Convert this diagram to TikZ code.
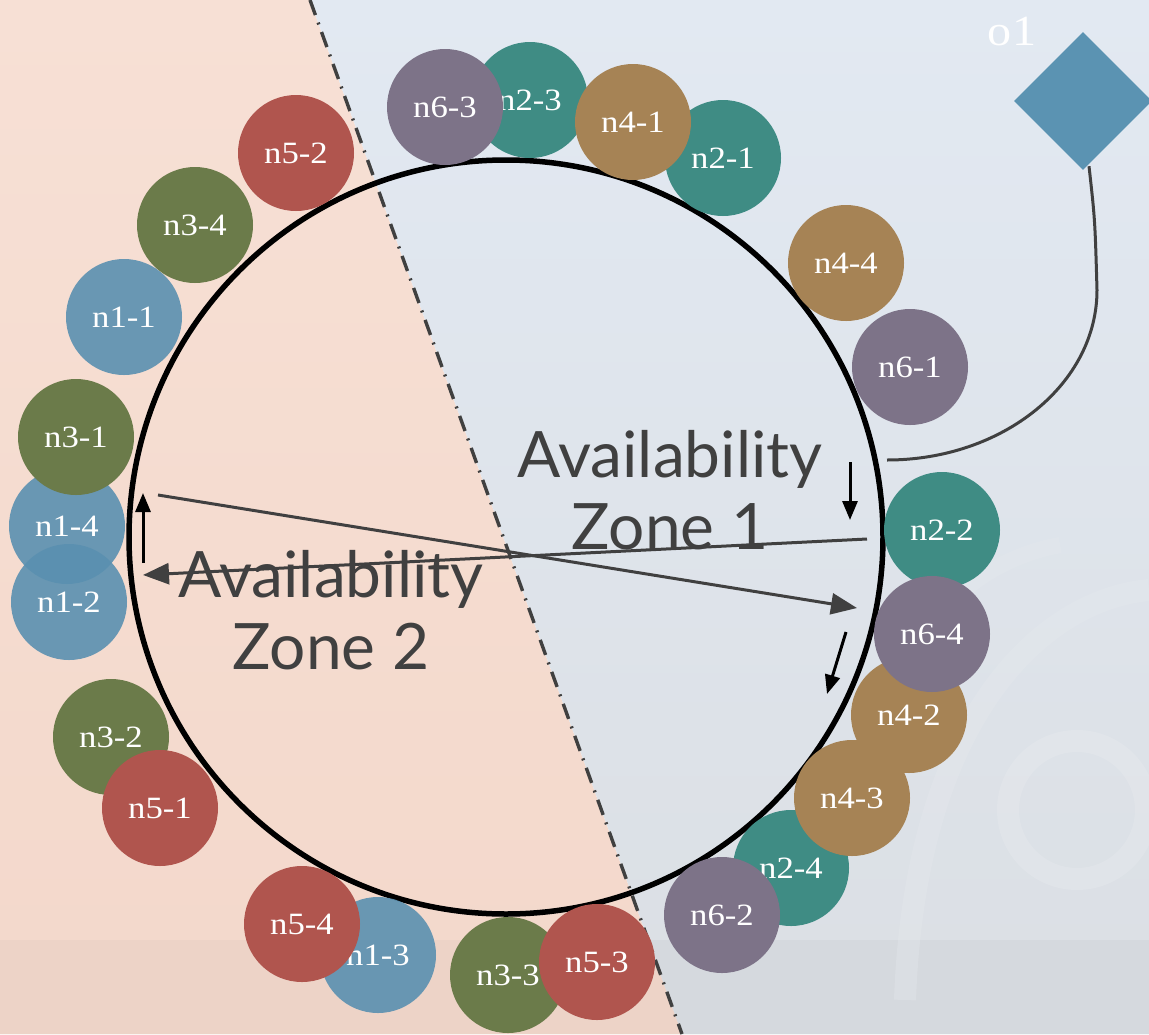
\documentclass[tikz,border=0pt]{standalone}
\usepackage{fontspec}
\setmainfont[FakeStretch=1.12]{Liberation Serif}
\newfontfamily\zonefont{Lato}
\usetikzlibrary{arrows.meta,shapes.geometric}

\definecolor{bgLeftTop}{HTML}{F7E0D5}
\definecolor{bgLeftBot}{HTML}{F3D8CB}
\definecolor{bgLeftBand}{HTML}{EDD3C7}
\definecolor{bgRightTop}{HTML}{E2E9F2}
\definecolor{bgRightBot}{HTML}{DBDFE4}
\definecolor{bgRightBand}{HTML}{D5D9DE}
\definecolor{markColor}{HTML}{E6E9ED}
\definecolor{inkGray}{HTML}{404040}
\definecolor{nBlue}{HTML}{5A90B0}
\definecolor{nTeal}{HTML}{3F8C84}
\definecolor{nGreen}{HTML}{6B7B4A}
\definecolor{nTan}{HTML}{A68355}
\definecolor{nRed}{HTML}{B0554E}
\definecolor{nPurple}{HTML}{7D7388}
\definecolor{objBlue}{HTML}{5B93B2}

\tikzset{
  member/.style={circle, minimum size=116pt, inner sep=0pt, text=white,
    font=\fontsize{31}{31}\selectfont},
  blueN/.style={member, fill=nBlue, fill opacity=0.9, text opacity=1},
  tealN/.style={member, fill=nTeal},
  greenN/.style={member, fill=nGreen},
  tanN/.style={member, fill=nTan},
  redN/.style={member, fill=nRed},
  purpleN/.style={member, fill=nPurple},
  zonelabel/.style={text=inkGray, align=center,
    font=\zonefont\fontsize{64}{72}\selectfont},
  flow/.style={draw=inkGray, line width=3pt,
    -{Triangle[length=26pt,width=21pt]}},
  nudge/.style={draw=black, line width=3pt,
    -{Triangle[length=19pt,width=15pt]}},
}

\begin{document}
\begin{tikzpicture}[x=1pt,y=-1pt]
\useasboundingbox (0,0) rectangle (1149,1034);

% --- background: two zones split by a slanted boundary ---
\shade[top color=bgLeftTop, bottom color=bgLeftBot]
  (0,0) -- (310,0) -- (682,1034) -- (0,1034) -- cycle;
\shade[top color=bgRightTop, bottom color=bgRightBot]
  (310,0) -- (1149,0) -- (1149,1034) -- (682,1034) -- cycle;
\fill[bgLeftBand] (0,940) -- (648,940) -- (682,1034) -- (0,1034) -- cycle;
\fill[bgRightBand] (648,940) -- (1149,940) -- (1149,1034) -- (682,1034) -- cycle;

% faint emblem in the lower right
\begin{scope}[even odd rule]
  \fill[markColor, opacity=0.45] (1077,810) circle (80) (1077,810) circle (58);
\end{scope}
\draw[markColor, line width=22pt, opacity=0.35] (905,1000) .. controls (915,720) and (1040,600) .. (1149,590);
\draw[markColor, line width=16pt, opacity=0.35] (880,760) .. controls (900,620) and (980,560) .. (1060,545);

% zone boundary
\draw[inkGray, line width=3.4pt, dash pattern=on 16pt off 8pt on 2pt off 8pt]
  (310,0) -- (682,1034);

% --- the ring ---
\node[circle, draw=black, line width=5.5pt, minimum size=754pt, inner sep=0pt]
  (ring) at (506,537) {};

% zone titles
\node[zonelabel] (az1) at (670,490) {Availability\\Zone 1};
\node[zonelabel] (az2) at (331,610) {Availability\\Zone 2};

% --- members placed around the ring ---
\node[tealN]   (n2-3) at (530,100) {n2-3};
\node[purpleN] (n6-3) at (445,107) {n6-3};
\node[tealN]   (n2-1) at (723,158) {n2-1};
\node[tanN]    (n4-1) at (633,122) {n4-1};
\node[redN]    (n5-2) at (296,153) {n5-2};
\node[greenN]  (n3-4) at (195,225) {n3-4};
\node[blueN]   (n1-1) at (124,317) {n1-1};
\node[tanN]    (n4-4) at (846,263) {n4-4};
\node[purpleN] (n6-1) at (910,367) {n6-1};
\node[blueN]   (n1-4) at (67,526)  {n1-4};
\node[blueN]   (n1-2) at (69,602)  {n1-2};
\node[greenN]  (n3-1) at (76,437)  {n3-1};
\node[tealN]   (n2-2) at (942,530) {n2-2};
\node[tealN]   (n2-4) at (791,868) {n2-4};
\node[tanN]    (n4-3) at (852,798) {n4-3};
\node[tanN]    (n4-2) at (909,715) {n4-2};
\node[purpleN] (n6-4) at (932,634) {n6-4};
\node[purpleN] (n6-2) at (722,915) {n6-2};
\node[greenN]  (n3-2) at (111,737) {n3-2};
\node[redN]    (n5-1) at (160,808) {n5-1};
\node[blueN]   (n1-3) at (378,955) {n1-3};
\node[redN]    (n5-4) at (302,924) {n5-4};
\node[greenN]  (n3-3) at (508,975) {n3-3};
\node[redN]    (n5-3) at (597,962) {n5-3};

% --- object and its link to the ring ---
\node[diamond, fill=objBlue, minimum width=138pt, minimum height=138pt,
  inner sep=0pt] (o1) at (1083,101) {};
\node[text=white, font=\fontsize{43}{43}\selectfont] (o1label) at (1012,32) {o1};
\coordinate (hit) at (887,460);
\draw[inkGray, line width=3pt]
  ([xshift=6pt,yshift=4pt]o1.south) .. controls (1095,220) .. (1097,290)
  .. controls (1097,384) and (1003,460) .. (hit);

% --- transfer arrows across the zones ---
\coordinate (a1s) at (158,495);
\coordinate (a1e) at (857,608);
\coordinate (a2s) at (867,539);
\coordinate (a2e) at (143,575);
\draw[flow] (a1s) -- (a1e);
\draw[flow] (a2s) -- (a2e);

\coordinate (u1s) at (143,563);
\coordinate (u1e) at (143,493);
\coordinate (d1s) at (850,462);
\coordinate (d1e) at (850,520);
\coordinate (d2s) at (846,632);
\coordinate (d2e) at (827,694);
\draw[nudge] (u1s) -- (u1e);
\draw[nudge] (d1s) -- (d1e);
\draw[nudge] (d2s) -- (d2e);
\end{tikzpicture}
\end{document}
